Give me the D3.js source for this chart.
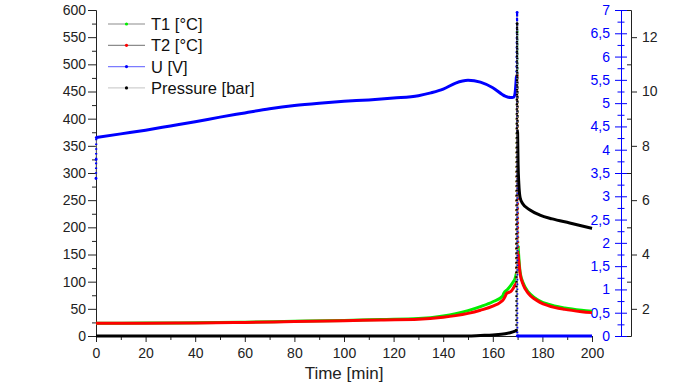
<!DOCTYPE html>
<html>
<head>
<meta charset="utf-8">
<script src="https://cdn.jsdelivr.net/npm/d3@7"></script>
<style>
  body { margin: 0; background: #fff; }
  svg { display: block; font-family: "Liberation Sans", Arial, sans-serif; }
</style>
</head>
<body>
<div id="chart"></div>
<script>
// ---- data: [time min, value] ----
// T1 [°C]
const t1Pre = [[0,23.5],[20,23.7],[40,24.2],[60,25.3],[80,27],[100,28.6],[115,30.3],[130,32],[140,36.8],[145,41],[150,46.6],[155,54],[160,63],[164,73.6],[164.4,78.6],[166,86],[168,98],[169,106],[169.5,115]];
const t1Jump = [[169.5,115],[169.8,560],[170.2,165]];
const t1Post = [[170.2,165],[171,118],[172.3,97],[174.3,81],[177,70],[179,64.5],[182.3,58.5],[189,51.5],[195.8,47.3],[200,45.5]];

// T2 [°C]
const t2Pre = [[0,23.3],[20,23.5],[40,24],[60,25],[80,26.5],[100,28],[115,29.5],[130,30.7],[140,34.4],[145,37.5],[150,41.7],[155,47.5],[160,55],[163,62],[164.3,67.5],[165,73],[165.5,78],[167.3,82],[168,86],[169,94],[169.5,97]];
const t2Jump = [[169.5,97],[169.8,480],[170.2,150]];
const t2Post = [[170.2,150],[171,115],[172.3,94],[174.3,78.6],[177,67.5],[179,62],[182.3,56],[189,49],[195.8,44.8],[200,43]];

// U [V]
const uStart = [[0,3.38],[0.05,3.79],[0.1,4.26]];
const uPre = [[0.1,4.26],[10,4.34],[20,4.42],[30,4.51],[40,4.6],[50,4.7],[60,4.79],[70,4.88],[80,4.95],[90,5.0],[100,5.04],[110,5.07],[120,5.11],[130,5.16],[135,5.22],[140,5.3],[145,5.43],[150,5.49],[155,5.45],[160,5.33],[165,5.15],[167,5.12],[168.5,5.13],[169,5.22],[169.5,5.56]];
const uJump = [[169.5,5.56],[169.8,6.95],[169.85,0],[170.2,0]];
const uPost = [[170.2,0],[200,0]];

// Pressure [bar]
const pPre = [[0,1],[50,1],[100,1],[150,1],[155,1.02],[160,1.04],[165,1.08],[167,1.12],[169,1.18],[169.5,1.2]];
const pJump = [[169.5,1.2],[169.8,12.5],[170,8.5]];
const pPost = [[170,8.5],[170.2,7.3],[170.5,6.6],[171,6.1],[172,5.88],[175,5.64],[179,5.45],[184,5.31],[191,5.16],[200,4.96]];

// ticks
const timeTicks = [0,20,40,60,80,100,120,140,160,180,200];
const timeMinor = [10,30,50,70,90,110,130,150,170,190];
const tempTicks = [0,50,100,150,200,250,300,350,400,450,500,550,600];
const tempMinor = [25,75,125,175,225,275,325,375,425,475,525,575];
const uTicks = [0,0.5,1,1.5,2,2.5,3,3.5,4,4.5,5,5.5,6,6.5,7];
const uMinor = [0.25,0.75,1.25,1.75,2.25,2.75,3.25,3.75,4.25,4.75,5.25,5.75,6.25,6.75];
const pTicks = [2,4,6,8,10,12];
const pMinor = [1,3,5,7,9,11,13];

const legendLabels = ["T1 [°C]", "T2 [°C]", "U [V]", "Pressure [bar]"];
const legendLine = ["#8c8c8c", "#8c8c8c", "#7b7bff", "#cfcfcf"];
const seriesColor = ["#00ee00", "#ff0000", "#0000ff", "#000000"];

const width = 696, height = 385;
const plotL = 96, plotR = 592, plotT = 10, plotB = 336;

const svg = d3.select("#chart").append("svg")
  .attr("width", width)
  .attr("height", height);

const x = d3.scaleLinear().domain([0, 200]).range([plotL, plotR]);
const yT = d3.scaleLinear().domain([0, 600]).range([plotB, plotT]);
const yU = d3.scaleLinear().domain([0, 7]).range([plotB, plotT]);
const yP = d3.scaleLinear().domain([1, 13]).range([plotB, plotT]);

// ---- axes ----
function styleAxis(g, color) {
  g.selectAll("path").attr("stroke", color).attr("stroke-width", 1);
  g.selectAll("line").attr("stroke", color).attr("stroke-width", 1);
  g.selectAll("text").attr("fill", color).style("font-size", "14px")
    .style("font-family", '"Liberation Sans", Arial, sans-serif');
}

// left (temperature)
svg.append("g")
  .attr("transform", `translate(${plotL},0)`)
  .call(d3.axisLeft(yT).tickValues(tempMinor).tickSize(4).tickSizeOuter(0).tickFormat(""))
  .call(g => styleAxis(g, "#222"));
svg.append("g")
  .attr("transform", `translate(${plotL},0)`)
  .call(d3.axisLeft(yT).tickValues(tempTicks).tickSize(8).tickSizeOuter(0).tickPadding(2))
  .call(g => styleAxis(g, "#222"));

// bottom (time)
svg.append("g")
  .attr("transform", `translate(0,${plotB})`)
  .call(d3.axisBottom(x).tickValues(timeMinor).tickSize(4).tickSizeOuter(0).tickFormat(""))
  .call(g => styleAxis(g, "#222"));
svg.append("g")
  .attr("transform", `translate(0,${plotB})`)
  .call(d3.axisBottom(x).tickValues(timeTicks).tickSize(6).tickSizeOuter(0).tickPadding(6))
  .call(g => styleAxis(g, "#222"));

// blue axis (U), ticks crossing the line
const uAxisX = 621;
svg.append("g")
  .attr("transform", `translate(${uAxisX},0)`)
  .call(d3.axisLeft(yU).tickValues(uMinor).tickSize(3.5).tickSizeOuter(0).tickFormat(""))
  .call(g => g.selectAll(".tick line").attr("x1", 3.5))
  .call(g => styleAxis(g, "#0000ff"));
svg.append("g")
  .attr("transform", `translate(${uAxisX},0)`)
  .call(d3.axisLeft(yU).tickValues(uTicks).tickSize(6).tickSizeOuter(0).tickPadding(5)
    .tickFormat(d => String(d).replace(".", ",")))
  .call(g => g.selectAll(".tick line").attr("x1", 6))
  .call(g => styleAxis(g, "#0000ff"));

// black axis (pressure)
const pAxisX = 631;
svg.append("g")
  .attr("transform", `translate(${pAxisX},0)`)
  .call(d3.axisLeft(yP).tickValues(pMinor).tickSize(4).tickSizeOuter(0).tickFormat(""))
  .call(g => styleAxis(g, "#222"));
svg.append("g")
  .attr("transform", `translate(${pAxisX},0)`)
  .call(d3.axisRight(yP).tickValues(pTicks).tickSize(6).tickSizeOuter(0).tickPadding(5))
  .call(g => styleAxis(g, "#222"));

// x title
svg.append("text")
  .attr("x", (plotL + plotR) / 2)
  .attr("y", 379)
  .attr("text-anchor", "middle")
  .style("font-size", "17px")
  .attr("fill", "#222")
  .text("Time [min]");

// ---- series ----
const series = [
  { y: yT, dense: [t1Pre, t1Post], sparse: [t1Jump] },
  { y: yT, dense: [t2Pre, t2Post], sparse: [t2Jump] },
  { y: yU, dense: [uPre, uPost], sparse: [uStart, uJump] },
  { y: yP, dense: [pPre, pPost], sparse: [pJump] }
];

const gSeries = svg.append("g");

series.forEach((s, i) => {
  const line = d3.line().x(d => x(d[0])).y(d => s.y(d[1]));
  const smooth = d3.line().x(d => x(d[0])).y(d => s.y(d[1])).curve(d3.curveMonotoneX);
  const color = seriesColor[i];

  // dense parts: thick colored curves
  s.dense.forEach(part => {
    gSeries.append("path")
      .datum(part)
      .attr("d", smooth)
      .attr("fill", "none")
      .attr("stroke", color)
      .attr("stroke-width", 3)
      .attr("stroke-linejoin", "round");
  });

  // sparse parts (jumps): thin connecting line plus dotted markers
  s.sparse.forEach(part => {
    gSeries.append("path")
      .datum(part)
      .attr("d", line)
      .attr("fill", "none")
      .attr("stroke", "#999")
      .attr("stroke-width", 0.8);
    gSeries.append("path")
      .datum(part)
      .attr("d", line)
      .attr("fill", "none")
      .attr("stroke", color)
      .attr("stroke-width", 2.2)
      .attr("stroke-dasharray", "1.6,3.2");
    gSeries.selectAll(null)
      .data(part)
      .join("circle")
      .attr("cx", d => x(d[0]))
      .attr("cy", d => s.y(d[1]))
      .attr("r", 1.4)
      .attr("fill", color);
  });
});

// ---- legend ----
const legend = svg.append("g");
legendLabels.forEach((label, i) => {
  const ly = 24 + i * 21.3;
  legend.append("line")
    .attr("x1", 108).attr("x2", 145)
    .attr("y1", ly).attr("y2", ly)
    .attr("stroke", legendLine[i])
    .attr("stroke-width", 1.2);
  legend.append("circle")
    .attr("cx", 126.5).attr("cy", ly)
    .attr("r", 1.6)
    .attr("fill", seriesColor[i]);
  legend.append("text")
    .attr("x", 151)
    .attr("y", ly + 6)
    .style("font-size", "16.5px")
    .attr("fill", "#111")
    .text(label);
});
</script>
</body>
</html>
